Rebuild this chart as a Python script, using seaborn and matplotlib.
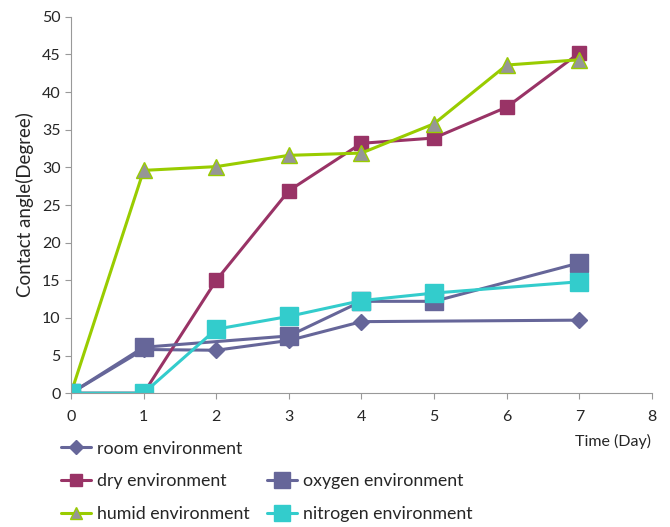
import matplotlib
matplotlib.use('Agg')
import matplotlib.pyplot as plt
import seaborn as sns
import pandas as pd
from matplotlib.lines import Line2D

# values
room_days = [0, 1, 2, 3, 4, 7]
room_vals = [0, 5.8, 5.7, 7.0, 9.5, 9.7]
dry_days = [0, 1, 2, 3, 4, 5, 6, 7]
dry_vals = [0, 0, 15.0, 26.9, 33.2, 33.9, 38.0, 45.2]
humid_days = [0, 1, 2, 3, 4, 5, 6, 7]
humid_vals = [0, 29.6, 30.1, 31.6, 31.9, 35.8, 43.6, 44.3]
oxygen_days = [0, 1, 3, 4, 5, 7]
oxygen_vals = [0, 6.1, 7.6, 12.2, 12.2, 17.3]
nitrogen_days = [0, 1, 2, 3, 4, 5, 7]
nitrogen_vals = [0, 0, 8.5, 10.2, 12.3, 13.3, 14.8]

sns.set_style('white')
plt.rcParams['font.family'] = ['Lato', 'DejaVu Sans']

fig = plt.figure(figsize=(6.7, 5.27), dpi=100)
ax = fig.add_axes([0.106, 0.254, 0.867, 0.714])

styles = [
    ('room environment', room_days, room_vals, '#666699', 'D', 8, '#666699', '#666699'),
    ('dry environment', dry_days, dry_vals, '#993366', 's', 10, '#993366', '#993366'),
    ('humid environment', humid_days, humid_vals, '#99cc00', '^', 11, '#969696', '#99cc00'),
    ('oxygen environment', oxygen_days, oxygen_vals, '#666699', 's', 13, '#666699', '#666699'),
    ('nitrogen environment', nitrogen_days, nitrogen_vals, '#33cccc', 's', 13, '#33cccc', '#33cccc'),
]

handles = {}
for name, d, v, col, mk, ms, mfc, mec in styles:
    df = pd.DataFrame({'day': d, 'angle': v})
    sns.lineplot(data=df, x='day', y='angle', ax=ax, color=col, linewidth=2.2,
                 marker=mk, markersize=ms, markerfacecolor=mfc, markeredgecolor=mec,
                 markeredgewidth=1, label=None)
    handles[name] = Line2D([], [], color=col, linewidth=2.2, marker=mk,
                           markersize=ms * 0.85, markerfacecolor=mfc, markeredgecolor=mec)

ax.set_xlim(0, 8)
ax.set_ylim(0, 50)
ax.set_xticks(range(0, 9))
ax.set_yticks(range(0, 51, 5))
ax.tick_params(axis='both', labelsize=11.5, length=4, color='#999999', direction='out',
               bottom=True, left=True)
ax.tick_params(axis='x', pad=8)
for side in ['top', 'right']:
    ax.spines[side].set_visible(False)
for side in ['left', 'bottom']:
    ax.spines[side].set_color('#999999')
ax.set_ylabel('Contact angle(Degree)', fontsize=13.5, labelpad=6)
ax.set_xlabel('')
fig.text(0.972, 0.163, 'Time (Day)', ha='right', va='center', fontsize=11.5)

blank = Line2D([], [], linestyle='none', marker=None)
order = ['room environment', 'dry environment', 'humid environment', '',
         'oxygen environment', 'nitrogen environment']
h = [handles[n] if n else blank for n in order]
fig.legend(h, order, loc='upper left', bbox_to_anchor=(0.078, 0.181), ncol=2,
           frameon=False, fontsize=12.8, handlelength=1.7, handletextpad=0.3,
           labelspacing=0.95, columnspacing=1.0, borderpad=0)

fig.savefig('out.png', dpi=100)
